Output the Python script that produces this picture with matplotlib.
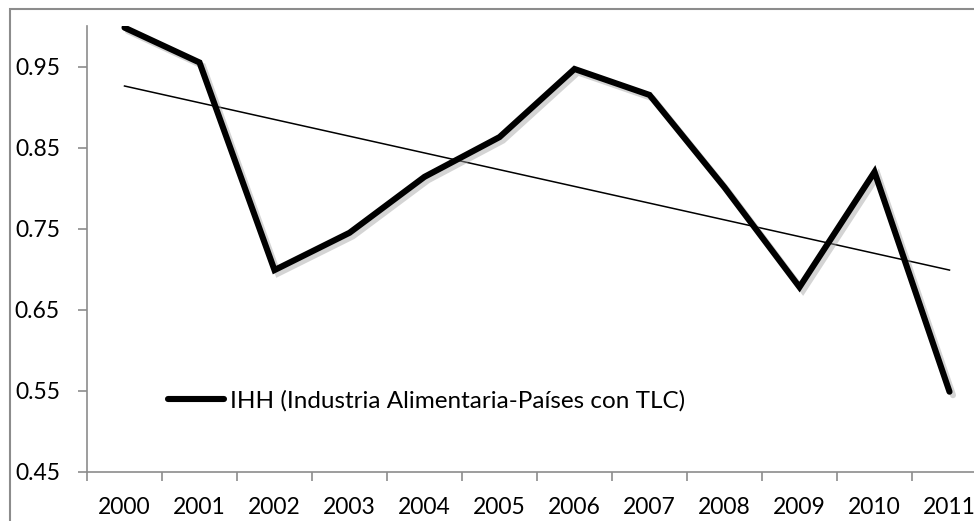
import matplotlib
matplotlib.use("Agg")
import matplotlib.pyplot as plt
import matplotlib.patheffects as pe
from matplotlib.patches import Rectangle
from matplotlib.ticker import FixedLocator
import numpy as np

years = ["2000", "2001", "2002", "2003", "2004", "2005",
         "2006", "2007", "2008", "2009", "2010", "2011"]
ihh = [0.998, 0.955, 0.699, 0.745, 0.814, 0.863,
       0.947, 0.915, 0.801, 0.678, 0.820, 0.549]
# linear trend series, values at first and last year
trend_years = ["2000", "2011"]
trend_values = [0.926, 0.699]
y_ticks = [0.45, 0.55, 0.65, 0.75, 0.85, 0.95]
series_label = "IHH (Industria Alimentaria-Países con TLC)"

plt.rcParams["font.family"] = ["Lato", "DejaVu Sans"]

W, H = 974, 521
fig = plt.figure(figsize=(W / 100, H / 100), dpi=100)

# chart-area border (runs off the right and bottom edges)
fig.patches.append(Rectangle((10 / W, -0.1), 1.2, 1 - 9 / H + 0.1,
                             transform=fig.transFigure, fill=False,
                             edgecolor="#8c8c8c", linewidth=1.5, zorder=0))

ax = fig.add_axes([87 / W, 1 - 472 / H, 900 / W, (472 - 26) / H])

x = np.arange(len(years))
shadow = [pe.SimpleLineShadow(offset=(2.5, -2.5), shadow_color="#a0a0a0",
                              alpha=0.45), pe.Normal()]
ax.plot(x, ihh, color="black", linewidth=4.4, solid_joinstyle="miter",
        solid_capstyle="round", path_effects=shadow, label=series_label,
        zorder=3)

tx = [years.index(t) for t in trend_years]
ax.plot(tx, trend_values, color="black", linewidth=1.1, zorder=2)

ax.set_xlim(-0.5, len(years) - 0.5)
ax.set_ylim(0.45, 1.0)

ax.set_xticks(x)
ax.set_xticklabels(years)
ax.xaxis.set_minor_locator(FixedLocator(np.arange(-0.5, len(years), 1.0)))
ax.tick_params(axis="x", which="major", length=0, pad=18, labelsize=16.5)
ax.tick_params(axis="x", which="minor", length=6.5, width=1.2,
               color="#8c8c8c", direction="out")

ax.set_yticks(y_ticks)
ax.set_yticklabels([f"{v:.2f}" for v in y_ticks])
ax.tick_params(axis="y", length=6.5, width=1.2, color="#8c8c8c",
               direction="out", pad=13, labelsize=16.5)

for side in ("top", "right"):
    ax.spines[side].set_visible(False)
for side in ("left", "bottom"):
    ax.spines[side].set_color("#8c8c8c")
    ax.spines[side].set_linewidth(1.2)

handles, labels = ax.get_legend_handles_labels()
leg = ax.legend(handles[:1], labels[:1], loc="center left",
                bbox_to_anchor=(81 / 900, (472 - 401) / 446),
                frameon=False, borderpad=0, borderaxespad=0,
                handlelength=2.3, handletextpad=0.25, fontsize=17.5)
for h in leg.legend_handles:
    h.set_path_effects([])

fig.savefig("out.png", dpi=100)
